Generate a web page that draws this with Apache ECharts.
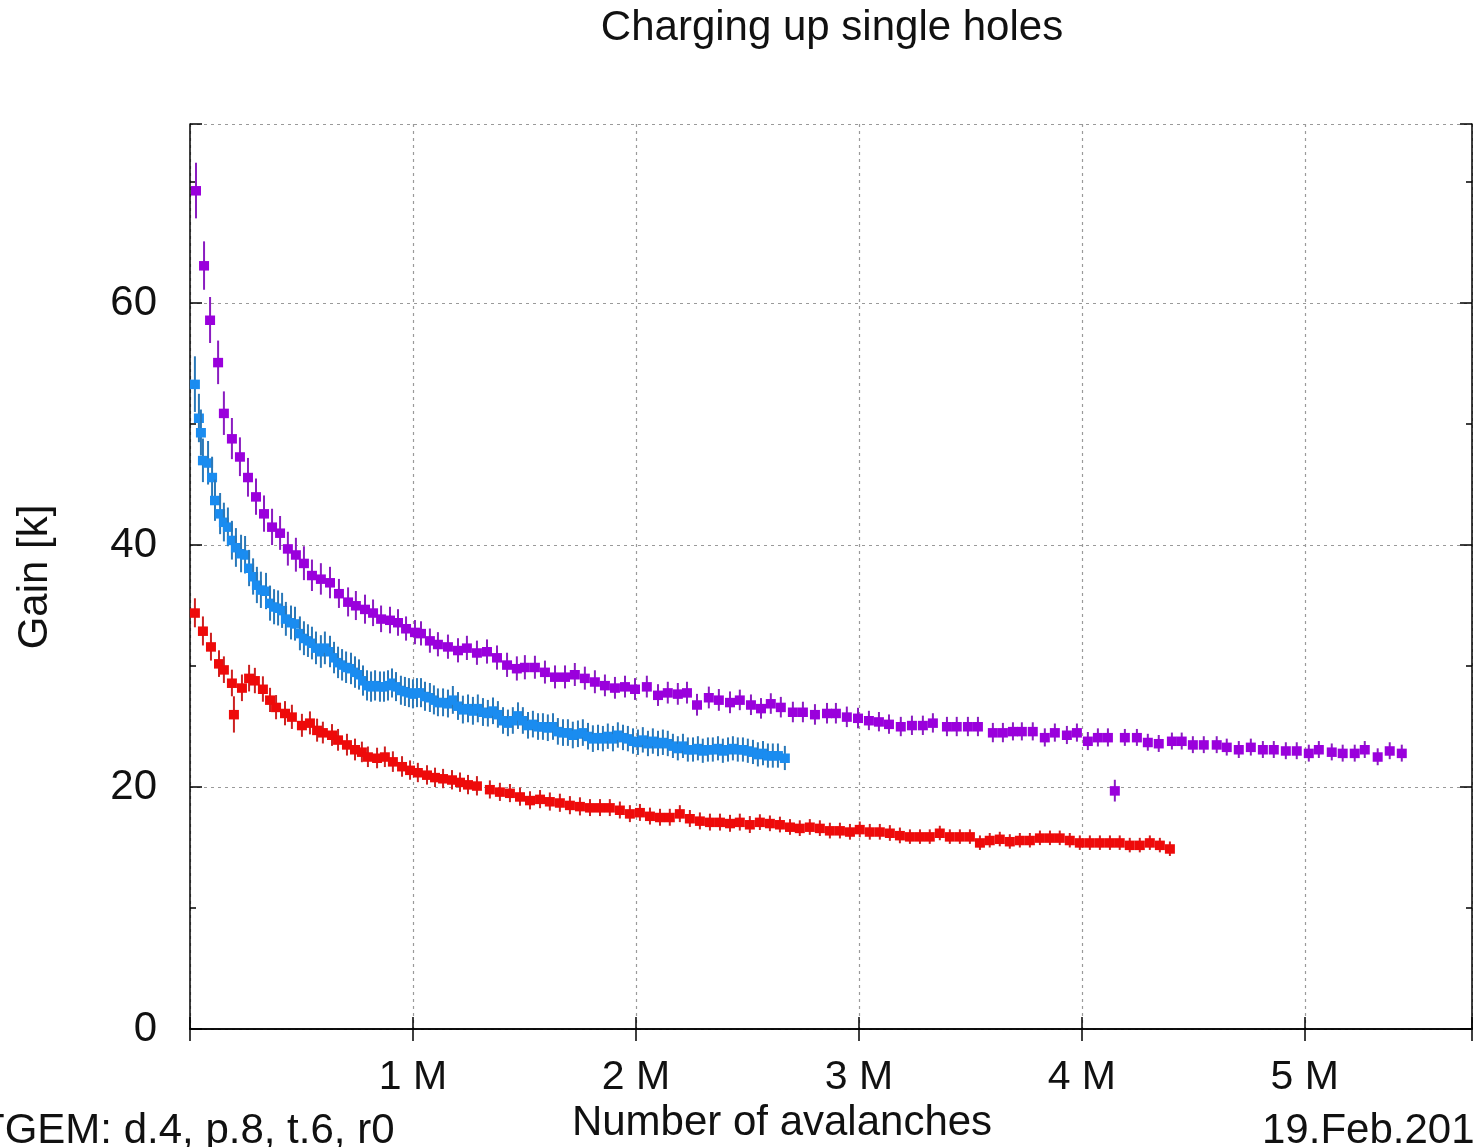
<!DOCTYPE html>
<html>
<head>
<meta charset="utf-8">
<script src="https://cdn.jsdelivr.net/npm/echarts@6/dist/echarts.min.js"></script>
<style>
html,body{margin:0;padding:0;background:#fff;}
#c{width:1473px;height:1147px;}
</style>
</head>
<body>
<div id="c"></div>
<script>
// [avalanches (M), gain (k), error (k)]
const purpleData = [
[0.027,69.3,2.3],[0.063,63.1,2.0],[0.090,58.6,1.9],[0.126,55.1,1.8],[0.152,50.9,1.8],[0.188,48.8,1.7],
[0.224,47.3,1.6],[0.260,45.6,1.6],[0.296,44.0,1.5],[0.332,42.6,1.5],[0.368,41.5,1.5],[0.404,41.0,1.4],[0.439,39.7,1.4],[0.475,39.2,1.4],[0.511,38.5,1.4],[0.547,37.5,1.3],
[0.587,37.2,1.3],[0.628,36.9,1.3],[0.668,36.0,1.2],[0.709,35.3,1.2],[0.744,35.0,1.2],[0.785,34.7,1.2],[0.821,34.4,1.1],[0.857,33.9,1.1],[0.897,33.8,1.1],[0.933,33.6,1.1],[0.969,33.1,1.0],[1.009,32.8,1.0],[1.036,32.7,1.0],[1.076,32.1,1.0],
[1.112,31.8,1.0],[1.157,31.6,1.0],[1.202,31.3,1.0],[1.242,31.5,1.0],[1.287,31.1,1.0],[1.332,31.2,1.0],[1.377,30.7,1.0],[1.422,30.1,1.0],[1.466,29.8,1.0],[1.502,29.9,1.0],[1.547,29.9,0.95],[1.592,29.5,0.95],[1.637,29.1,0.95],[1.682,29.1,0.95],[1.726,29.3,0.95],[1.771,29.0,0.95],[1.816,28.7,0.95],[1.861,28.4,0.9],[1.906,28.2,0.9],[1.951,28.3,0.9],[1.996,28.1,0.9],
[2.049,28.3,0.9],[2.099,27.6,0.9],[2.143,27.8,0.9],[2.188,27.7,0.9],[2.229,27.8,0.9],[2.274,26.8,0.9],[2.327,27.4,0.9],[2.372,27.2,0.9],[2.422,27.0,0.9],[2.466,27.2,0.85],[2.516,26.8,0.85],[2.561,26.5,0.85],[2.605,26.9,0.85],[2.650,26.6,0.85],[2.704,26.2,0.85],[2.749,26.2,0.85],[2.803,26.0,0.85],[2.857,26.1,0.85],[2.897,26.1,0.85],[2.946,25.8,0.85],[2.996,25.7,0.85],
[3.045,25.5,0.8],[3.090,25.4,0.8],[3.135,25.2,0.8],[3.188,25.0,0.8],[3.238,25.1,0.8],[3.287,25.1,0.8],[3.332,25.3,0.8],[3.395,25.0,0.8],[3.439,25.0,0.8],[3.489,25.0,0.8],[3.534,25.0,0.8],[3.601,24.5,0.8],[3.646,24.5,0.8],[3.691,24.6,0.75],[3.731,24.6,0.75],[3.780,24.6,0.75],[3.834,24.1,0.75],[3.879,24.5,0.75],[3.933,24.3,0.75],[3.978,24.5,0.75],
[4.027,23.8,0.75],[4.072,24.1,0.75],[4.117,24.1,0.75],[4.148,19.7,0.9],[4.193,24.1,0.7],[4.247,24.1,0.7],[4.296,23.7,0.7],[4.345,23.6,0.7],[4.404,23.8,0.7],[4.448,23.8,0.7],[4.498,23.5,0.7],[4.547,23.5,0.7],[4.605,23.5,0.7],[4.650,23.3,0.7],[4.704,23.1,0.7],[4.758,23.3,0.7],[4.812,23.1,0.7],[4.861,23.1,0.7],[4.915,23.0,0.7],[4.964,23.0,0.7],[5.018,22.8,0.7],[5.063,23.1,0.7],[5.121,22.9,0.7],[5.170,22.8,0.7],[5.224,22.8,0.7],[5.269,23.1,0.7],[5.327,22.5,0.7],[5.381,23.0,0.7],[5.435,22.8,0.7]
];
const blueData = [
[0.022,53.3,2.3],[0.040,50.5,2.0],[0.049,49.3,1.9],[0.058,47.0,1.8],[0.081,46.8,1.8],[0.099,45.6,1.7],[0.112,43.7,1.7],[0.135,42.6,1.7],[0.152,41.9,1.6],[0.170,41.5,1.6],[0.188,40.4,1.6],[0.206,39.8,1.6],[0.229,39.3,1.55],[0.247,39.2,1.55],[0.265,38.1,1.5],[0.283,37.4,1.5],[0.300,36.7,1.5],[0.318,36.3,1.5],[0.341,36.2,1.5],[0.359,35.2,1.45],[0.377,34.9,1.45],[0.395,34.8,1.45],[0.413,34.6,1.45],[0.430,33.9,1.4],[0.453,33.6,1.4],[0.471,33.5,1.4],[0.493,32.7,1.4],[0.511,32.3,1.4],[0.529,32.1,1.35],[0.547,31.9,1.35],[0.565,31.5,1.35],[0.587,31.2,1.35],[0.605,31.5,1.35],[0.628,31.2,1.3],[0.646,30.7,1.3],[0.664,30.3,1.3],[0.682,30.1,1.3],[0.700,29.9,1.3],[0.722,29.8,1.3],[0.740,29.5,1.3],[0.758,29.3,1.25],[0.776,28.8,1.25],[0.794,28.4,1.25],[0.812,28.3,1.25],[0.830,28.4,1.25],[0.852,28.3,1.25],[0.870,28.3,1.25],[0.888,28.4,1.25],[0.906,28.6,1.2],[0.924,28.3,1.2],[0.946,28.0,1.2],[0.964,27.9,1.2],[0.982,27.8,1.2],[1.000,27.7,1.2],[1.018,27.8,1.2],[1.036,27.8,1.2],[1.054,27.5,1.2],[1.076,27.4,1.2],[1.094,27.2,1.2],[1.112,27.0,1.15],
[1.135,27.0,1.15],[1.157,26.9,1.15],[1.179,27.2,1.15],[1.202,26.7,1.15],[1.224,26.4,1.15],[1.247,26.5,1.15],[1.269,26.3,1.15],[1.291,26.5,1.15],[1.314,26.2,1.15],[1.336,26.1,1.1],[1.359,26.3,1.1],[1.381,26.0,1.1],[1.404,25.5,1.1],[1.426,25.3,1.1],[1.448,25.5,1.1],[1.471,25.9,1.1],[1.493,25.5,1.1],[1.516,25.1,1.1],[1.538,25.2,1.1],[1.561,25.0,1.1],[1.583,25.0,1.1],[1.605,24.9,1.1],[1.628,25.0,1.1],[1.650,24.6,1.1],[1.673,24.5,1.1],[1.695,24.5,1.1],[1.717,24.3,1.1],[1.740,24.4,1.1],[1.762,24.5,1.1],[1.785,24.2,1.1],[1.807,24.0,1.1],[1.830,24.1,1.05],[1.852,24.0,1.05],[1.874,24.2,1.05],[1.897,24.0,1.05],[1.919,24.3,1.05],[1.942,24.1,1.05],[1.964,24.0,1.05],[1.987,23.8,1.05],[2.009,23.7,1.05],[2.031,23.9,1.05],[2.054,23.6,1.05],[2.076,23.8,1.05],[2.099,23.6,1.05],[2.121,23.7,1.05],[2.143,23.6,1.05],[2.166,23.4,1.0],[2.188,23.2,1.0],[2.211,23.4,1.0],[2.233,23.1,1.0],[2.256,23.1,1.0],[2.278,23.2,1.0],[2.300,23.0,1.0],[2.323,23.1,1.0],[2.345,23.1,1.0],[2.368,23.2,1.0],[2.390,23.0,1.0],[2.413,23.1,1.0],[2.435,23.2,1.0],[2.457,23.1,1.0],[2.480,23.1,1.0],[2.502,23.0,1.0],[2.525,22.9,1.0],[2.547,22.7,1.0],[2.570,22.8,1.0],[2.592,22.6,1.0],[2.614,22.6,1.0],[2.637,22.6,1.0],[2.668,22.4,1.0]
];
const redData = [
[0.022,34.4,1.2],[0.058,32.9,1.2],[0.094,31.6,1.15],[0.130,30.2,1.1],[0.152,29.7,1.1],[0.188,28.6,1.1],[0.197,26.0,1.5],[0.233,28.2,1.1],[0.265,29.0,1.1],[0.291,28.8,1.05],[0.327,28.1,1.05],[0.359,27.2,1.0],[0.386,26.6,1.0],[0.426,26.1,1.0],[0.457,25.8,1.0],[0.502,25.1,0.95],[0.538,25.3,0.95],[0.570,24.7,0.95],[0.596,24.5,0.9],[0.637,24.3,0.9],[0.664,23.9,0.9],[0.704,23.5,0.9],[0.740,23.1,0.9],[0.771,22.9,0.85],[0.798,22.5,0.85],[0.839,22.4,0.85],[0.874,22.5,0.85],[0.910,22.1,0.85],[0.951,21.7,0.85],[0.987,21.4,0.8],[1.022,21.2,0.8],[1.063,21.0,0.8],[1.099,20.8,0.8],[1.135,20.7,0.8],[1.175,20.6,0.8],[1.211,20.4,0.8],[1.247,20.2,0.8],[1.287,20.1,0.8],
[1.345,19.8,0.75],[1.390,19.6,0.75],[1.435,19.5,0.75],[1.480,19.2,0.75],[1.525,18.9,0.75],[1.570,19.0,0.75],[1.614,18.8,0.75],[1.659,18.7,0.75],[1.704,18.5,0.75],[1.749,18.4,0.75],[1.794,18.3,0.7],[1.839,18.3,0.7],[1.883,18.3,0.7],[1.928,18.1,0.7],[1.973,17.8,0.7],[2.018,17.9,0.7],[2.063,17.6,0.7],[2.108,17.5,0.7],[2.152,17.5,0.7],[2.197,17.8,0.7],[2.242,17.4,0.7],[2.287,17.2,0.7],[2.332,17.1,0.7],[2.377,17.1,0.7],[2.422,17.0,0.7],[2.466,17.1,0.7],[2.511,16.9,0.7],[2.556,17.1,0.65],[2.601,17.0,0.65],[2.646,16.9,0.65],[2.691,16.7,0.65],[2.735,16.6,0.65],[2.780,16.7,0.65],[2.825,16.6,0.65],[2.870,16.4,0.65],[2.915,16.4,0.65],[2.960,16.3,0.65],[3.004,16.5,0.65],[3.049,16.3,0.65],[3.094,16.3,0.65],[3.139,16.2,0.65],[3.184,16.0,0.65],[3.229,15.9,0.6],[3.274,15.9,0.6],[3.318,15.9,0.6],[3.363,16.2,0.6],[3.408,15.9,0.6],[3.453,15.9,0.6],[3.498,15.9,0.6],[3.543,15.4,0.6],[3.587,15.6,0.6],[3.632,15.7,0.6],[3.677,15.5,0.6],[3.722,15.6,0.6],[3.767,15.6,0.6],[3.812,15.8,0.6],[3.857,15.8,0.6],[3.901,15.8,0.6],[3.946,15.6,0.6],[3.991,15.4,0.6],[4.036,15.4,0.6],[4.081,15.4,0.6],[4.126,15.4,0.6],[4.170,15.4,0.6],[4.215,15.2,0.6],[4.260,15.2,0.6],[4.305,15.4,0.6],[4.350,15.2,0.6],[4.395,14.9,0.6]
];
const xTickValues = [1, 2, 3, 4, 5];
const yTickValues = [0, 20, 40, 60];
const titleText = 'Charging up single holes';
const xName = 'Number of avalanches';
const yName = 'Gain [k]';
const leftNote = 'TGEM: d.4, p.8, t.6, r0';
const rightNote = '19.Feb.2014';

const FONT = "'Liberation Sans', Arial, sans-serif";
const chart = echarts.init(document.getElementById('c'), null, {renderer: 'canvas'});

function errSeries(name, data, color, barColor) {
  return {
    name: name, type: 'custom', xAxisIndex: 0, yAxisIndex: 0,
    encode: {x: 0, y: 1}, clip: false, animation: false,
    data: data,
    renderItem: function (params, api) {
      const x = api.value(0), y = api.value(1), e = api.value(2);
      const p = api.coord([x, y]);
      const hi = api.coord([x, y + e]);
      const lo = api.coord([x, y - e]);
      return {
        type: 'group',
        children: [
          {type: 'line', shape: {x1: p[0], y1: hi[1], x2: p[0], y2: lo[1]}, style: {stroke: barColor, lineWidth: 2}},
          {type: 'rect', shape: {x: p[0] - 5, y: p[1] - 4.5, width: 10, height: 9.5}, style: {fill: color}}
        ]
      };
    }
  };
}

const gridLine = {show: true, lineStyle: {color: '#9a9a9a', width: 1.2, type: [3, 4]}};
const xBase = {type: 'value', min: 0, max: 5.75, interval: 1, gridIndex: 0};
const yBase = {type: 'value', min: 0, max: 74.8, gridIndex: 0};

chart.setOption({
  animation: false,
  backgroundColor: '#fff',
  grid: {left: 190, right: 1, top: 124, bottom: 118, containLabel: false, outerBoundsMode: 'none'},
  xAxis: [
    Object.assign({}, xBase, {
      position: 'bottom',
      axisLine: {show: true, lineStyle: {color: '#000', width: 1.5}},
      axisTick: {show: true, inside: true, length: 12, lineStyle: {color: '#000', width: 1.5}},
      axisLabel: {show: true, margin: 28, fontSize: 41, fontFamily: FONT, color: '#111',
        formatter: function (v) { return xTickValues.indexOf(v) >= 0 ? v + ' M' : ''; }},
      splitLine: gridLine
    }),
    Object.assign({}, xBase, {
      position: 'top',
      axisLine: {show: true, lineStyle: {color: '#000', width: 1.5}},
      axisTick: {show: true, inside: true, length: 12, lineStyle: {color: '#000', width: 1.5}},
      axisLabel: {show: false}, splitLine: {show: false}
    })
  ],
  yAxis: [
    Object.assign({}, yBase, {
      position: 'left', interval: 20,
      axisLine: {show: true, lineStyle: {color: '#000', width: 1.5}},
      axisTick: {show: true, inside: true, length: 12, lineStyle: {color: '#000', width: 1.5}},
      axisLabel: {show: true, margin: 33, fontSize: 42, fontFamily: FONT, color: '#111',
        formatter: function (v) { return yTickValues.indexOf(v) >= 0 ? String(v) : ''; }},
      splitLine: gridLine
    }),
    Object.assign({}, yBase, {
      position: 'left', interval: 10,
      axisLine: {show: false},
      axisTick: {show: true, inside: true, length: 6, lineStyle: {color: '#000', width: 1.5}},
      axisLabel: {show: false}, splitLine: {show: false}
    }),
    Object.assign({}, yBase, {
      position: 'right', interval: 20,
      axisLine: {show: true, lineStyle: {color: '#000', width: 1.5}},
      axisTick: {show: true, inside: true, length: 12, lineStyle: {color: '#000', width: 1.5}},
      axisLabel: {show: false}, splitLine: {show: false}
    }),
    Object.assign({}, yBase, {
      position: 'right', interval: 10,
      axisLine: {show: false},
      axisTick: {show: true, inside: true, length: 6, lineStyle: {color: '#000', width: 1.5}},
      axisLabel: {show: false}, splitLine: {show: false}
    })
  ],
  series: [
    errSeries('purple', purpleData, '#9a00dc', '#8a1cc0'),
    errSeries('blue', blueData, '#1a8cf0', '#2a78b8'),
    errSeries('red', redData, '#ee0a0a', '#cc2020')
  ],
  graphic: [
    {type: 'text', x: 832, y: 28, style: {text: titleText, font: '42px ' + FONT, fill: '#111', align: 'center', verticalAlign: 'middle', textAlign: 'center', textVerticalAlign: 'middle'}},
    {type: 'text', x: 35, y: 577, rotation: Math.PI / 2, style: {text: yName, font: '42px ' + FONT, fill: '#111', align: 'center', verticalAlign: 'middle', textAlign: 'center', textVerticalAlign: 'middle'}},
    {type: 'text', x: 782, y: 1123, style: {text: xName, font: '42px ' + FONT, fill: '#111', align: 'center', verticalAlign: 'middle', textAlign: 'center', textVerticalAlign: 'middle'}},
    {type: 'text', x: -21, y: 1131, style: {text: leftNote, font: '42px ' + FONT, fill: '#111', align: 'left', verticalAlign: 'middle', textAlign: 'left', textVerticalAlign: 'middle'}},
    {type: 'text', x: 1262, y: 1131, style: {text: rightNote, font: '42px ' + FONT, fill: '#111', align: 'left', verticalAlign: 'middle', textAlign: 'left', textVerticalAlign: 'middle'}}
  ]
});
</script>
</body>
</html>
